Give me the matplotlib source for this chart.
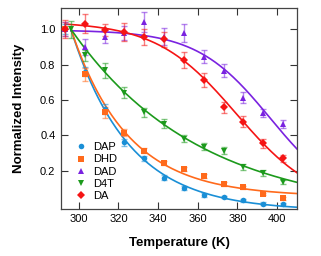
import numpy as np
import matplotlib
matplotlib.use("Agg")
import matplotlib.pyplot as plt
from matplotlib.lines import Line2D

plt.rcParams['font.family'] = ['Liberation Sans', 'DejaVu Sans']

# temperatures (K)
temps = [293, 303, 313, 323, 333, 343, 353, 363, 373, 383, 393, 403]
temps_d4t = [296, 303, 313, 323, 333, 343, 353, 363, 373, 383, 393, 403]

# normalized intensities
dap = [1.0, 0.76, 0.55, 0.362, 0.271, 0.162, 0.102, 0.065, 0.052, 0.033, 0.014, 0.012]
dhd = [1.0, 0.746, 0.53, 0.416, 0.314, 0.243, 0.21, 0.172, 0.125, 0.106, 0.069, 0.046]
dad = [1.0, 0.90, 0.957, 0.98, 1.04, 0.957, 0.98, 0.844, 0.765, 0.613, 0.525, 0.465]
d4t = [1.0, 0.853, 0.769, 0.641, 0.53, 0.465, 0.38, 0.337, 0.314, 0.221, 0.187, 0.136]
da = [1.0, 1.032, 0.994, 0.985, 0.957, 0.942, 0.825, 0.713, 0.559, 0.478, 0.356, 0.271]

# error bars (half widths)
dap_err = [0.03, 0.025, 0.03, 0.02, 0.015, 0.012, 0.01, 0.01, 0.008, 0.008, 0.008, 0.008]
dhd_err = [0.04, 0.037, 0.033, 0.02, 0.015, 0.012, 0.012, 0.01, 0.01, 0.01, 0.008, 0.008]
dad_err = [0.04, 0.044, 0.037, 0.04, 0.058, 0.047, 0.05, 0.037, 0.037, 0.03, 0.022, 0.023]
d4t_err = [0.047, 0.03, 0.042, 0.03, 0.025, 0.025, 0.02, 0.02, 0.018, 0.015, 0.015, 0.012]
da_err = [0.052, 0.056, 0.035, 0.05, 0.046, 0.04, 0.044, 0.037, 0.03, 0.03, 0.025, 0.02]

labels = ['DAP', 'DHD', 'DAD', 'D4T', 'DA']
colors = ['#1a8fd6', '#ff6a1c', '#7a22e0', '#1c9a1c', '#f51414']
markers = ['o', 's', '^', 'v', 'D']


def fit_exp(t, y, t0=296.0):
    # decay pinned to 1 at t0, free tau and baseline
    t = np.asarray(t, float)
    y = np.asarray(y, float)
    best = None
    for tau in np.linspace(10, 120, 441):
        e = np.exp(-(t - t0) / tau)
        b = 1 - e
        c = np.dot(b, y - e) / np.dot(b, b)
        r = np.sum((e + c * b - y) ** 2)
        if best is None or r < best[0]:
            best = (r, tau, c)
    _, tau, c = best
    return lambda x: (1 - c) * np.exp(-(x - t0) / tau) + c


def fit_sig(t, y):
    t = np.asarray(t, float)
    y = np.asarray(y, float)
    best = None
    for tm in np.linspace(340, 430, 181):
        for w in np.linspace(4, 40, 145):
            g = 1.0 / (1.0 + np.exp((t - tm) / w))
            a = np.dot(g, y) / np.dot(g, g)
            r = np.sum((a * g - y) ** 2)
            if best is None or r < best[0]:
                best = (r, tm, w, a)
    _, tm, w, a = best
    return lambda x: a / (1.0 + np.exp((x - tm) / w))


fig = plt.figure(figsize=(3.21, 2.56), dpi=100)
ax = fig.add_axes([0.19, 0.184, 0.735, 0.785])

series = [(temps, dap, dap_err, 'exp', 296),
          (temps, dhd, dhd_err, 'exp', 296),
          (temps, dad, dad_err, 'sig', 296),
          (temps_d4t, d4t, d4t_err, 'exp', 296),
          (temps, da, da_err, 'sig', 293)]

for (t, y, e, kind, start), lab, col, mk in zip(series, labels, colors, markers):
    f = fit_exp(t, y) if kind == 'exp' else fit_sig(t, y)
    xs = np.linspace(start, 410, 200)
    ax.plot(xs, f(xs), color=col, lw=1.2, zorder=2)
    ax.errorbar(t, y, yerr=e, fmt='none', ecolor=col, alpha=0.55,
                elinewidth=1.0, capsize=2.5, capthick=1.0, zorder=3)
    ms = 4.5 if mk == 'D' else 4
    ax.plot(t, y, linestyle='none', marker=mk, color=col, ms=ms,
            markeredgewidth=0, zorder=4)

ax.set_xlim(291, 410)
ax.set_ylim(-0.015, 1.12)
ax.set_xticks([300, 320, 340, 360, 380, 400])
ax.set_yticks([0.2, 0.4, 0.6, 0.8, 1.0])
ax.set_yticklabels(['0.2', '0.4', '0.6', '0.8', '1.0'])
ax.tick_params(direction='in', length=5, width=0.8, top=True, right=True,
               labelsize=8, color='#333333', pad=4)
for s in ax.spines.values():
    s.set_color('#444444')
    s.set_linewidth(0.9)

ax.set_xlabel('Temperature (K)', fontsize=9.5, fontweight='heavy', labelpad=9)
ax.set_ylabel('Normalized Intensity', fontsize=9.5, fontweight='heavy', labelpad=11)

handles = [Line2D([], [], linestyle='none', marker=mk, color=col,
                  ms=(4.5 if mk == 'D' else 4), markeredgewidth=0)
           for mk, col in zip(markers, colors)]
ax.legend(handles, labels, loc='lower left', frameon=False, fontsize=8,
          handlelength=1.0, handletextpad=0.6, labelspacing=0.2,
          borderaxespad=0.3, bbox_to_anchor=(0.03, 0.0))

fig.savefig('out.png', dpi=100)
